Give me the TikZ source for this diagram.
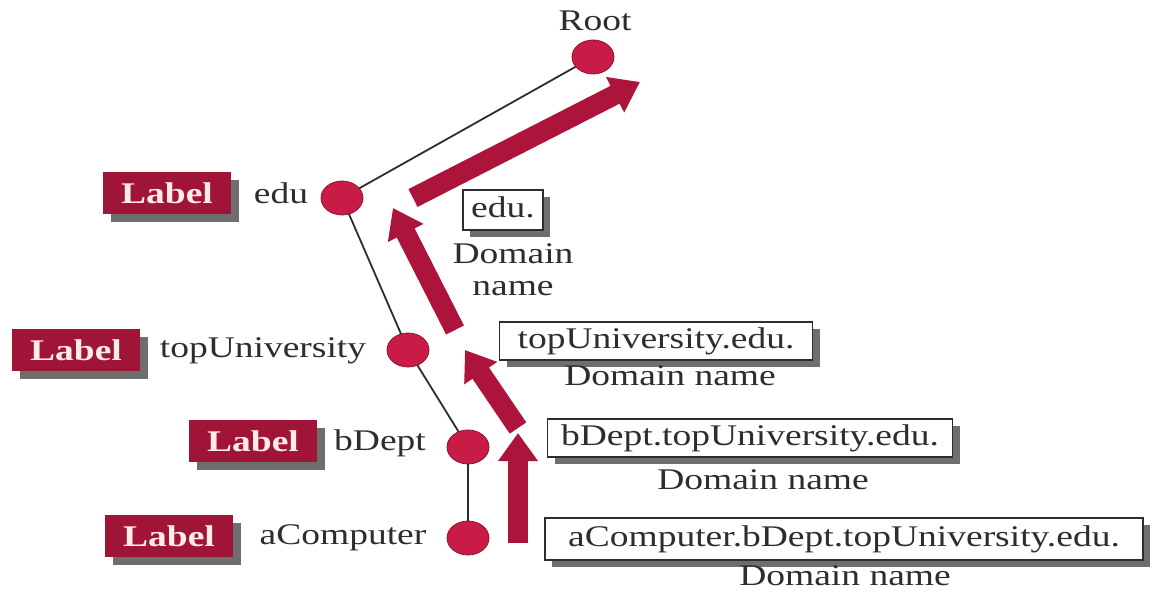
\documentclass[tikz,border=0pt]{standalone}
\usepackage{fontspec}
\setmainfont{Liberation Serif}[FakeStretch=1.25]
\usetikzlibrary{shapes.geometric,arrows.meta,shadows}
\definecolor{circred}{RGB}{200,28,70}
\definecolor{labred}{RGB}{160,20,55}
\definecolor{arrred}{RGB}{172,20,60}
\definecolor{txt}{RGB}{45,45,45}
\definecolor{shad}{RGB}{110,110,110}
\tikzset{
  dnode/.style={ellipse,fill=circred,draw=circred!70!black,line width=0.8pt,minimum width=42pt,minimum height=34pt,inner sep=0pt},
  labbox/.style={fill=labred,text=white!92!red,font=\fontsize{30}{34}\selectfont\bfseries,minimum width=128pt,minimum height=42pt,inner sep=0pt,
    drop shadow={shadow xshift=8pt,shadow yshift=-8pt,fill=shad,opacity=1}},
  namebox/.style={draw=txt,fill=white,line width=1.3pt,text=txt,font=\fontsize{30}{34}\selectfont,inner sep=0pt,text height=21pt,text depth=7pt,
    drop shadow={shadow xshift=7pt,shadow yshift=-7pt,fill=shad,opacity=1}},
  plain/.style={text=txt,font=\fontsize{30}{27}\selectfont,inner sep=0pt,align=center,text height=21pt,text depth=7pt},
  baseword/.style={text=txt,font=\fontsize{30}{27}\selectfont,inner sep=0pt,anchor=base},
  tree/.style={line width=1.8pt,draw=txt},
  bigarrow/.style={draw=arrred,line width=20pt,-{Triangle[length=28pt,width=38pt]}}
}
\begin{document}
\begin{tikzpicture}[x=1pt,y=-1pt]
\useasboundingbox (0,0) rectangle (1161,596);
% tree nodes
\coordinate (rootc) at (593,57);
\coordinate (educ) at (342,198);
\coordinate (topuc) at (408,350);
\coordinate (bdeptc) at (468,447);
\coordinate (acompc) at (468,538);
\draw[tree] (educ) -- (rootc);
\draw[tree] (educ) -- (topuc);
\draw[tree] (topuc) -- (bdeptc);
\draw[tree] (bdeptc) -- (acompc);
\node[dnode] (root) at (rootc) {};
\node[dnode] (edu) at (educ) {};
\node[dnode] (topu) at (topuc) {};
\node[dnode] (bdept) at (bdeptc) {};
\node[dnode] (acomp) at (acompc) {};
% texts
\node[plain] (roottxt) at (595,24) {Root};
\node[plain] (edutxt) at (281,197) {edu};
\node[plain] (toputxt) at (263,350) {topUniversity};
\node[plain] (bdepttxt) at (380,443) {bDept};
\node[plain] (acomptxt) at (343,537) {aComputer};
% label boxes
\node[labbox] (l1) at (167,193) {Label};
\node[labbox] (l2) at (76,350) {Label};
\node[labbox] (l3) at (253,441) {Label};
\node[labbox] (l4) at (169,536) {Label};
% domain name boxes
\node[namebox,minimum width=80pt,minimum height=40pt] (d1) at (503,210) {edu.};
\node[namebox,minimum width=313pt,minimum height=38pt] (d2) at (656,341) {topUniversity.edu.};
\node[namebox,minimum width=405pt,minimum height=38pt] (d3) at (750,438) {bDept.topUniversity.edu.};
\node[namebox,minimum width=598pt,minimum height=42pt] (d4) at (844,539) {aComputer.bDept.topUniversity.edu.};
\node[baseword] (c1a) at (513,263) {Domain};
\node[baseword] (c1b) at (513,295) {name};
\node[plain] (c2) at (670,378) {Domain name};
\node[plain] (c3) at (763,482) {Domain name};
\node[plain] (c4) at (845,578) {Domain name};
% arrows
\coordinate (a1s) at (518,543); \coordinate (a1e) at (518,433);
\coordinate (a2s) at (518,428); \coordinate (a2e) at (465,350);
\coordinate (a3s) at (455,330); \coordinate (a3e) at (393,208);
\coordinate (a4s) at (413,198); \coordinate (a4e) at (640,82);
\draw[bigarrow] (a1s) -- (a1e);
\draw[bigarrow] (a2s) -- (a2e);
\draw[bigarrow] (a3s) -- (a3e);
\draw[bigarrow] (a4s) -- (a4e);
\end{tikzpicture}
\end{document}
